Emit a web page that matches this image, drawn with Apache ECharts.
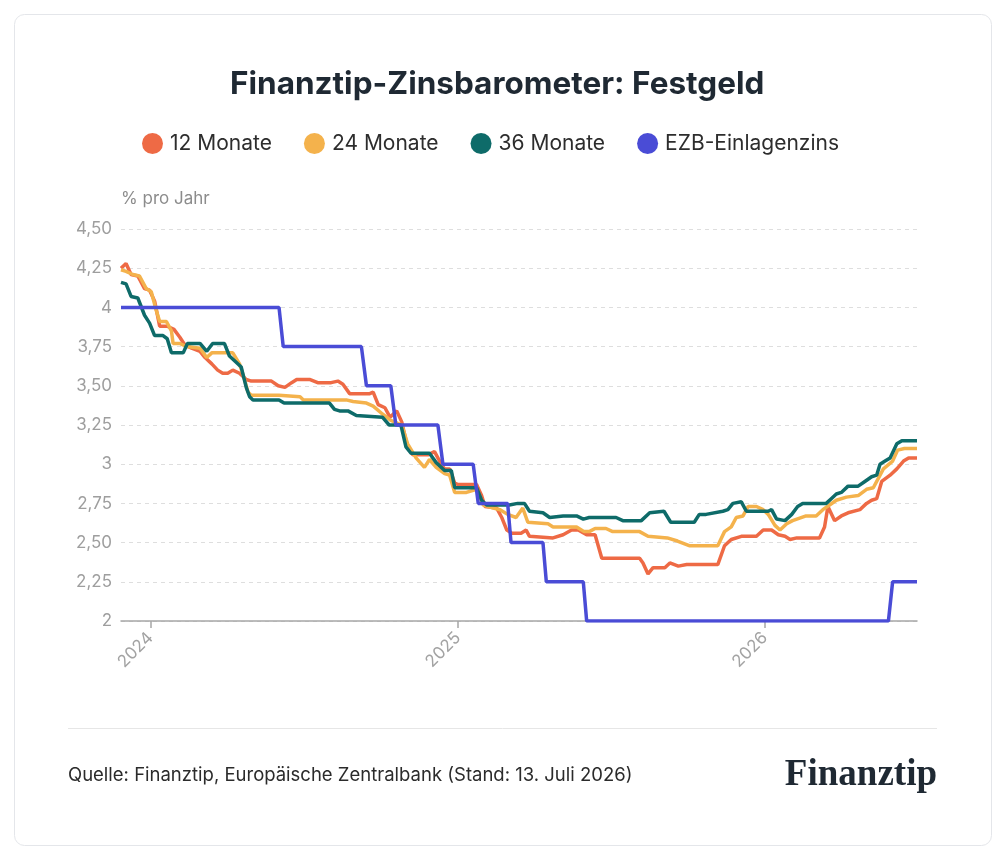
<!DOCTYPE html>
<html lang="de">
<head>
<meta charset="utf-8">
<title>Finanztip-Zinsbarometer: Festgeld</title>
<script src="https://cdn.jsdelivr.net/npm/echarts@6/dist/echarts.min.js"></script>
<style>
  html, body { margin: 0; padding: 0; background: #fff; }
  #chart { width: 1008px; height: 861px; }
</style>
</head>
<body>
<div id="chart"></div>
<script>
// Festgeld 12 Monate
const festgeld12 = [
  ['2023-11-27', 4.25], ['2023-12-03', 4.28], ['2023-12-09', 4.21], ['2023-12-17', 4.20], ['2023-12-25', 4.12],
  ['2023-12-31', 4.11], ['2024-01-06', 4.04], ['2024-01-12', 3.88], ['2024-01-21', 3.88], ['2024-01-29', 3.86],
  ['2024-02-05', 3.81], ['2024-02-11', 3.76], ['2024-02-19', 3.74], ['2024-02-29', 3.72], ['2024-03-06', 3.68],
  ['2024-03-14', 3.64], ['2024-03-21', 3.60], ['2024-03-27', 3.58], ['2024-04-02', 3.58], ['2024-04-08', 3.60],
  ['2024-04-16', 3.58], ['2024-04-24', 3.54], ['2024-04-30', 3.53], ['2024-05-24', 3.53], ['2024-06-01', 3.50],
  ['2024-06-09', 3.49], ['2024-06-17', 3.52], ['2024-06-23', 3.54], ['2024-07-09', 3.54], ['2024-07-18', 3.52],
  ['2024-08-03', 3.52], ['2024-08-11', 3.53], ['2024-08-17', 3.51], ['2024-08-25', 3.45], ['2024-09-18', 3.45],
  ['2024-09-22', 3.46], ['2024-09-28', 3.38], ['2024-10-06', 3.36], ['2024-10-12', 3.30], ['2024-10-20', 3.34],
  ['2024-10-26', 3.27], ['2024-11-01', 3.13], ['2024-11-08', 3.06], ['2024-11-26', 3.06], ['2024-12-04', 3.08],
  ['2024-12-12', 3.00], ['2024-12-16', 2.97], ['2024-12-22', 2.97], ['2024-12-28', 2.88], ['2025-01-01', 2.87],
  ['2025-01-23', 2.87], ['2025-01-29', 2.80], ['2025-02-02', 2.73], ['2025-02-16', 2.72], ['2025-02-22', 2.66],
  ['2025-02-28', 2.58], ['2025-03-06', 2.56], ['2025-03-17', 2.56], ['2025-03-23', 2.58], ['2025-03-27', 2.54],
  ['2025-04-24', 2.53], ['2025-05-06', 2.55], ['2025-05-16', 2.58], ['2025-05-24', 2.58], ['2025-06-03', 2.55],
  ['2025-06-13', 2.55], ['2025-06-21', 2.40], ['2025-08-05', 2.40], ['2025-08-09', 2.37], ['2025-08-15', 2.30],
  ['2025-08-21', 2.34], ['2025-09-04', 2.34], ['2025-09-10', 2.37], ['2025-09-20', 2.35], ['2025-09-30', 2.36],
  ['2025-11-06', 2.36], ['2025-11-14', 2.48], ['2025-11-22', 2.52], ['2025-12-04', 2.54], ['2025-12-22', 2.54],
  ['2025-12-30', 2.58], ['2026-01-09', 2.58], ['2026-01-17', 2.55], ['2026-01-25', 2.54], ['2026-01-31', 2.52],
  ['2026-02-08', 2.53], ['2026-03-07', 2.53], ['2026-03-13', 2.60], ['2026-03-17', 2.73], ['2026-03-25', 2.64],
  ['2026-04-02', 2.67], ['2026-04-10', 2.69], ['2026-04-24', 2.71], ['2026-05-02', 2.75], ['2026-05-08', 2.77],
  ['2026-05-14', 2.78], ['2026-05-20', 2.89], ['2026-05-30', 2.93], ['2026-06-07', 2.97], ['2026-06-15', 3.02],
  ['2026-06-21', 3.04], ['2026-07-01', 3.04]
]

// Festgeld 24 Monate
const festgeld24 = [
  ['2023-11-27', 4.24], ['2023-12-03', 4.23], ['2023-12-11', 4.21], ['2023-12-19', 4.20], ['2023-12-27', 4.12],
  ['2024-01-02', 4.10], ['2024-01-08', 3.98], ['2024-01-12', 3.91], ['2024-01-20', 3.91], ['2024-01-26', 3.85],
  ['2024-01-28', 3.77], ['2024-02-05', 3.77], ['2024-02-13', 3.75], ['2024-02-29', 3.74], ['2024-03-08', 3.68],
  ['2024-03-14', 3.71], ['2024-04-08', 3.71], ['2024-04-16', 3.64], ['2024-04-22', 3.54], ['2024-04-26', 3.46],
  ['2024-04-30', 3.44], ['2024-06-02', 3.44], ['2024-06-27', 3.43], ['2024-07-01', 3.41], ['2024-08-21', 3.41],
  ['2024-08-29', 3.40], ['2024-09-14', 3.39], ['2024-09-22', 3.37], ['2024-10-03', 3.32], ['2024-10-13', 3.28],
  ['2024-10-26', 3.25], ['2024-11-02', 3.13], ['2024-11-12', 3.04], ['2024-11-22', 2.98], ['2024-11-28', 3.03],
  ['2024-12-06', 2.98], ['2024-12-16', 2.94], ['2024-12-22', 2.93], ['2024-12-28', 2.82], ['2025-01-11', 2.82],
  ['2025-01-23', 2.84], ['2025-01-31', 2.74], ['2025-02-12', 2.72], ['2025-02-20', 2.71], ['2025-03-01', 2.68],
  ['2025-03-11', 2.66], ['2025-03-19', 2.72], ['2025-03-25', 2.63], ['2025-04-18', 2.62], ['2025-04-24', 2.60],
  ['2025-05-22', 2.60], ['2025-05-31', 2.57], ['2025-06-06', 2.57], ['2025-06-13', 2.59], ['2025-06-26', 2.59],
  ['2025-07-04', 2.57], ['2025-08-05', 2.57], ['2025-08-15', 2.54], ['2025-09-07', 2.53], ['2025-09-19', 2.51],
  ['2025-10-03', 2.48], ['2025-11-06', 2.48], ['2025-11-14', 2.57], ['2025-11-22', 2.60], ['2025-11-28', 2.66],
  ['2025-12-06', 2.67], ['2025-12-12', 2.73], ['2025-12-22', 2.73], ['2025-12-30', 2.71], ['2026-01-05', 2.68],
  ['2026-01-13', 2.61], ['2026-01-19', 2.58], ['2026-01-27', 2.62], ['2026-02-03', 2.64], ['2026-02-19', 2.67],
  ['2026-03-03', 2.67], ['2026-03-11', 2.71], ['2026-03-19', 2.74], ['2026-03-27', 2.77], ['2026-04-08', 2.79],
  ['2026-04-22', 2.80], ['2026-05-02', 2.84], ['2026-05-10', 2.85], ['2026-05-16', 2.91], ['2026-05-22', 2.97],
  ['2026-06-02', 3.02], ['2026-06-08', 3.09], ['2026-06-16', 3.10], ['2026-07-01', 3.10]
]

// Festgeld 36 Monate
const festgeld36 = [
  ['2023-11-27', 4.16], ['2023-12-03', 4.15], ['2023-12-09', 4.07], ['2023-12-17', 4.06], ['2023-12-25', 3.95],
  ['2023-12-31', 3.90], ['2024-01-06', 3.82], ['2024-01-16', 3.82], ['2024-01-21', 3.80], ['2024-01-26', 3.71],
  ['2024-02-09', 3.71], ['2024-02-14', 3.77], ['2024-02-29', 3.77], ['2024-03-08', 3.72], ['2024-03-15', 3.77],
  ['2024-03-29', 3.77], ['2024-04-04', 3.69], ['2024-04-12', 3.65], ['2024-04-18', 3.62], ['2024-04-24', 3.49],
  ['2024-04-28', 3.43], ['2024-05-02', 3.41], ['2024-06-02', 3.41], ['2024-06-08', 3.39], ['2024-08-01', 3.39],
  ['2024-08-07', 3.35], ['2024-08-13', 3.34], ['2024-08-23', 3.34], ['2024-09-02', 3.31], ['2024-10-03', 3.30],
  ['2024-10-11', 3.25], ['2024-10-25', 3.25], ['2024-10-31', 3.11], ['2024-11-06', 3.07], ['2024-11-28', 3.07],
  ['2024-12-06', 3.01], ['2024-12-16', 2.96], ['2024-12-24', 2.96], ['2024-12-28', 2.85], ['2025-01-23', 2.85],
  ['2025-01-29', 2.77], ['2025-02-04', 2.74], ['2025-03-03', 2.74], ['2025-03-13', 2.75], ['2025-03-21', 2.75],
  ['2025-03-27', 2.70], ['2025-04-12', 2.69], ['2025-04-20', 2.66], ['2025-05-06', 2.67], ['2025-05-22', 2.67],
  ['2025-05-30', 2.65], ['2025-06-06', 2.66], ['2025-07-08', 2.66], ['2025-07-16', 2.64], ['2025-08-07', 2.64],
  ['2025-08-17', 2.69], ['2025-09-03', 2.70], ['2025-09-11', 2.63], ['2025-10-09', 2.63], ['2025-10-15', 2.68],
  ['2025-10-23', 2.68], ['2025-11-12', 2.70], ['2025-11-18', 2.71], ['2025-11-24', 2.75], ['2025-12-04', 2.76],
  ['2025-12-10', 2.70], ['2026-01-05', 2.70], ['2026-01-09', 2.71], ['2026-01-15', 2.65], ['2026-01-25', 2.64],
  ['2026-02-02', 2.68], ['2026-02-09', 2.73], ['2026-02-15', 2.75], ['2026-03-15', 2.75], ['2026-03-21', 2.78],
  ['2026-03-27', 2.81], ['2026-04-02', 2.82], ['2026-04-10', 2.86], ['2026-04-22', 2.86], ['2026-04-30', 2.89],
  ['2026-05-08', 2.92], ['2026-05-14', 2.93], ['2026-05-18', 3.00], ['2026-05-24', 3.02], ['2026-05-30', 3.04],
  ['2026-06-07', 3.13], ['2026-06-13', 3.15], ['2026-07-01', 3.15]
]

// EZB-Einlagenzins
const ezbZins = [
  ['2023-11-27', 4.00], ['2024-06-02', 4.00], ['2024-06-07', 3.75], ['2024-09-08', 3.75], ['2024-09-14', 3.50],
  ['2024-10-13', 3.50], ['2024-10-19', 3.25], ['2024-12-08', 3.25], ['2024-12-14', 3.00], ['2025-01-19', 3.00],
  ['2025-01-25', 2.75], ['2025-03-01', 2.75], ['2025-03-05', 2.50], ['2025-04-12', 2.50], ['2025-04-16', 2.25],
  ['2025-05-30', 2.25], ['2025-06-03', 2.00], ['2026-05-28', 2.00], ['2026-06-02', 2.25], ['2026-07-01', 2.25]
]

const seriesNames = ['12 Monate', '24 Monate', '36 Monate', 'EZB-Einlagenzins']
const seriesColors = ['#ee6a45', '#f4b24c', '#0e6b69', '#4a4cd6']

const allData = [festgeld12, festgeld24, festgeld36, ezbZins]
const yearMs = 365 * 24 * 3600 * 1000

const chart = echarts.init(document.getElementById('chart'))

const option = {
  backgroundColor: '#fff',
  textStyle: { fontFamily: 'Inter, "Noto Sans", sans-serif' },
  title: {
    text: 'Finanztip-Zinsbarometer: Festgeld',
    left: 225,
    top: 64,
    textStyle: {
      fontSize: 31.5,
      fontWeight: 'bold',
      color: '#1f2933',
      fontFamily: 'Inter'
    }
  },
  legend: {
    top: 128,
    left: 137,
    icon: 'circle',
    itemWidth: 21,
    itemHeight: 21,
    itemGap: 32,
    data: seriesNames,
    textStyle: { fontSize: 21, color: '#2d2d2d', fontFamily: 'Inter', padding: [0, 0, 0, 2] }
  },
  grid: { left: 121, right: 91, top: 229, bottom: 240 },
  xAxis: {
    type: 'time',
    min: '2023-11-27',
    max: '2026-07-01',
    minInterval: yearMs,
    maxInterval: yearMs + 24 * 3600 * 1000,
    axisLine: { lineStyle: { color: '#a6a6a6', width: 1.5 } },
    axisTick: {
      show: true,
      length: 7,
      lineStyle: { color: '#a6a6a6', width: 1.5 }
    },
    axisLabel: {
      rotate: 45,
      margin: 14,
      fontSize: 17,
      color: '#a3a3a3',
      showMinLabel: false,
      showMaxLabel: false,
      formatter: (val) => String(new Date(val).getFullYear())
    },
    splitLine: { show: false }
  },
  yAxis: {
    type: 'value',
    min: 2,
    max: 4.5,
    interval: 0.25,
    name: '% pro Jahr',
    nameLocation: 'end',
    nameGap: 22,
    nameTextStyle: { align: 'left', fontSize: 17, color: '#8c8c8c' },
    axisLine: { show: false },
    axisTick: { show: false },
    axisLabel: {
      margin: 9,
      fontSize: 17,
      color: '#9e9e9e',
      formatter: (v) => (Number.isInteger(v) ? String(v) : v.toFixed(2).replace('.', ','))
    },
    splitLine: { lineStyle: { color: '#dedede', type: [4, 4], width: 1 } }
  },
  series: allData.map((data, i) => ({
    name: seriesNames[i],
    type: 'line',
    data: data,
    showSymbol: false,
    symbol: 'circle',
    color: seriesColors[i],
    lineStyle: { width: 3.5, color: seriesColors[i] },
    z: 2 + i
  })),
  graphic: [
    {
      type: 'rect',
      silent: true,
      z: -10,
      shape: { x: 14.5, y: 14.5, width: 977, height: 831, r: 10 },
      style: { fill: '#fff', stroke: '#e4e6ea', lineWidth: 1 }
    },
    {
      type: 'line',
      silent: true,
      shape: { x1: 68, y1: 728.5, x2: 937, y2: 728.5 },
      style: { stroke: '#e6e6e6', lineWidth: 1 }
    },
    {
      type: 'text',
      left: 68,
      top: 766,
      style: {
        text: 'Quelle: Finanztip, Europäische Zentralbank (Stand: 13. Juli 2026)',
        font: '18.5px Inter',
        fill: '#2b2b2b'
      }
    },
    {
      type: 'text',
      right: 71,
      top: 757,
      style: {
        text: 'Finanztip',
        font: 'bold 37px "Liberation Serif", "DejaVu Serif", serif',
        fill: '#1f2933'
      }
    }
  ]
}

chart.setOption(option)
</script>
</body>
</html>
